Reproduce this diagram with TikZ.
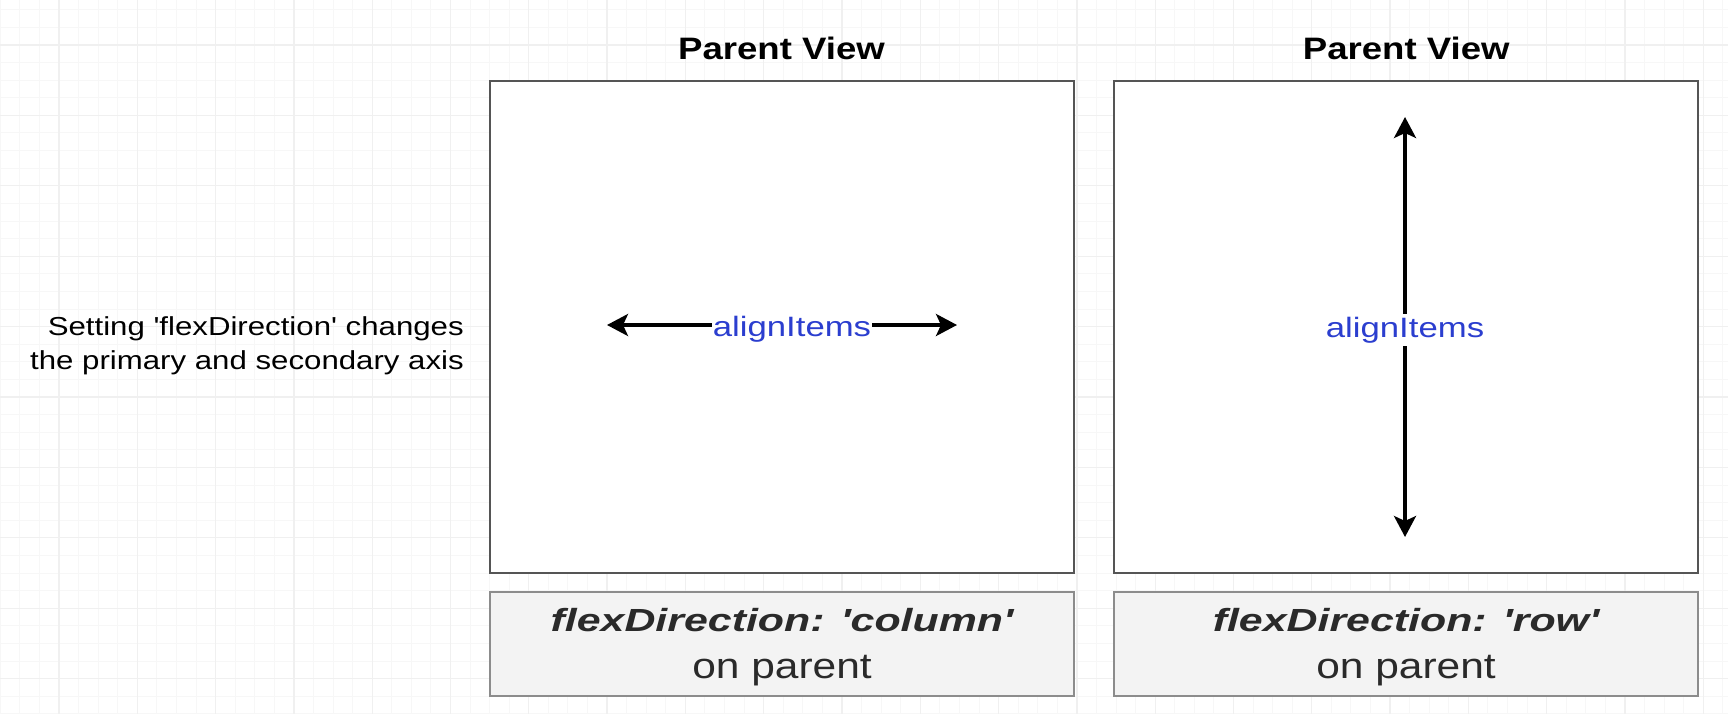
\documentclass[tikz,border=0pt]{standalone}
\usepackage{fontspec}
\setmainfont{Liberation Sans}
\usetikzlibrary{arrows.meta}
\definecolor{gridminor}{HTML}{F7F7F7}
\definecolor{gridmajor}{HTML}{F0F0F0}
\definecolor{blueTxt}{HTML}{2B3ECF}
\definecolor{boxline}{HTML}{555555}
\definecolor{capfill}{HTML}{F3F3F3}
\definecolor{capline}{HTML}{8C8C8C}
\definecolor{capTxt}{HTML}{2A2A2A}
\newcommand{\sq}{\textquotesingle}
\tikzset{
  viewbox/.style={draw=boxline, line width=2pt, fill=white, minimum width=584pt, minimum height=491.5pt, inner sep=0pt},
  capbox/.style={draw=capline, line width=2pt, fill=capfill, minimum width=584pt, minimum height=104pt, inner sep=0pt},
  title/.style={font=\fontsize{31}{36}\selectfont\bfseries, xscale=1.18, anchor=base, inner sep=0pt},
  note/.style={font=\fontsize{26}{34}\selectfont, xscale=1.2, align=right, anchor=east, inner sep=0pt},
  axislabel/.style={font=\fontsize{28}{34}\selectfont, text=blueTxt, xscale=1.24, fill=white, inner xsep=1pt, inner ysep=3pt},
  capmain/.style={font=\fontsize{32}{38}\selectfont\bfseries\itshape, text=capTxt, xscale=1.34, anchor=base, inner sep=0pt},
  capsub/.style={font=\fontsize{36}{42}\selectfont, text=capTxt, xscale=1.18, anchor=base, inner sep=0pt},
  dblarrow/.style={line width=3.5pt, {Stealth[length=21pt,width=22pt,inset=5pt]}-{Stealth[length=21pt,width=22pt,inset=5pt]}}
}
\begin{document}
\begin{tikzpicture}[x=1pt,y=-1pt]
\useasboundingbox (0,0) rectangle (1728,714);
\fill[white] (0,0) rectangle (1728,714);
% background grid
\foreach \k in {-3,...,85} {
  \pgfmathsetmacro\xx{59+19.575*\k}
  \draw[gridminor, line width=1pt] (\xx,0) -- (\xx,714);
}
\foreach \k in {-2,...,38} {
  \pgfmathsetmacro\yy{45+17.6*\k}
  \draw[gridminor, line width=1pt] (0,\yy) -- (1728,\yy);
}
\foreach \k in {0,4,...,84} {
  \pgfmathsetmacro\xx{59+19.575*\k}
  \draw[gridmajor, line width=1.3pt] (\xx,0) -- (\xx,714);
}
\foreach \k in {0,4,...,36} {
  \pgfmathsetmacro\yy{45+17.6*\k}
  \draw[gridmajor, line width=1.3pt] (0,\yy) -- (1728,\yy);
}

% parent views
\node[viewbox] (pvL) at (781.5,327.25) {};
\node[viewbox] (pvR) at (1406.25,327.25) {};
\node[title] (tL) at (781.5,60) {Parent View};
\node[title] (tR) at (1406.25,60) {Parent View};

% caption boxes
\node[capbox] (cbL) at (781.5,643.5) {};
\node[capbox] (cbR) at (1406.25,643.5) {};
\node[capmain] (cmL) at (782,631) {flexDirection: \sq column\sq};
\node[capsub]  (csL) at (782,678) {on parent};
\node[capmain] (cmR) at (1406,631) {flexDirection: \sq row\sq};
\node[capsub]  (csR) at (1406,678) {on parent};

% side note
\node[note] (side) at (464,346) {Setting \sq flexDirection\sq{} changes\\the primary and secondary axis};

% horizontal axis
\coordinate (hL) at (607,325);
\coordinate (hR) at (957,325);
\draw[dblarrow] (hL) -- (hR);
\node[axislabel] (aiL) at (792,329) {alignItems};

% vertical axis
\coordinate (vT) at (1405,117);
\coordinate (vB) at (1405,537);
\draw[dblarrow] (vT) -- (vB);
\node[axislabel] (aiR) at (1405,330) {alignItems};
\end{tikzpicture}
\end{document}
